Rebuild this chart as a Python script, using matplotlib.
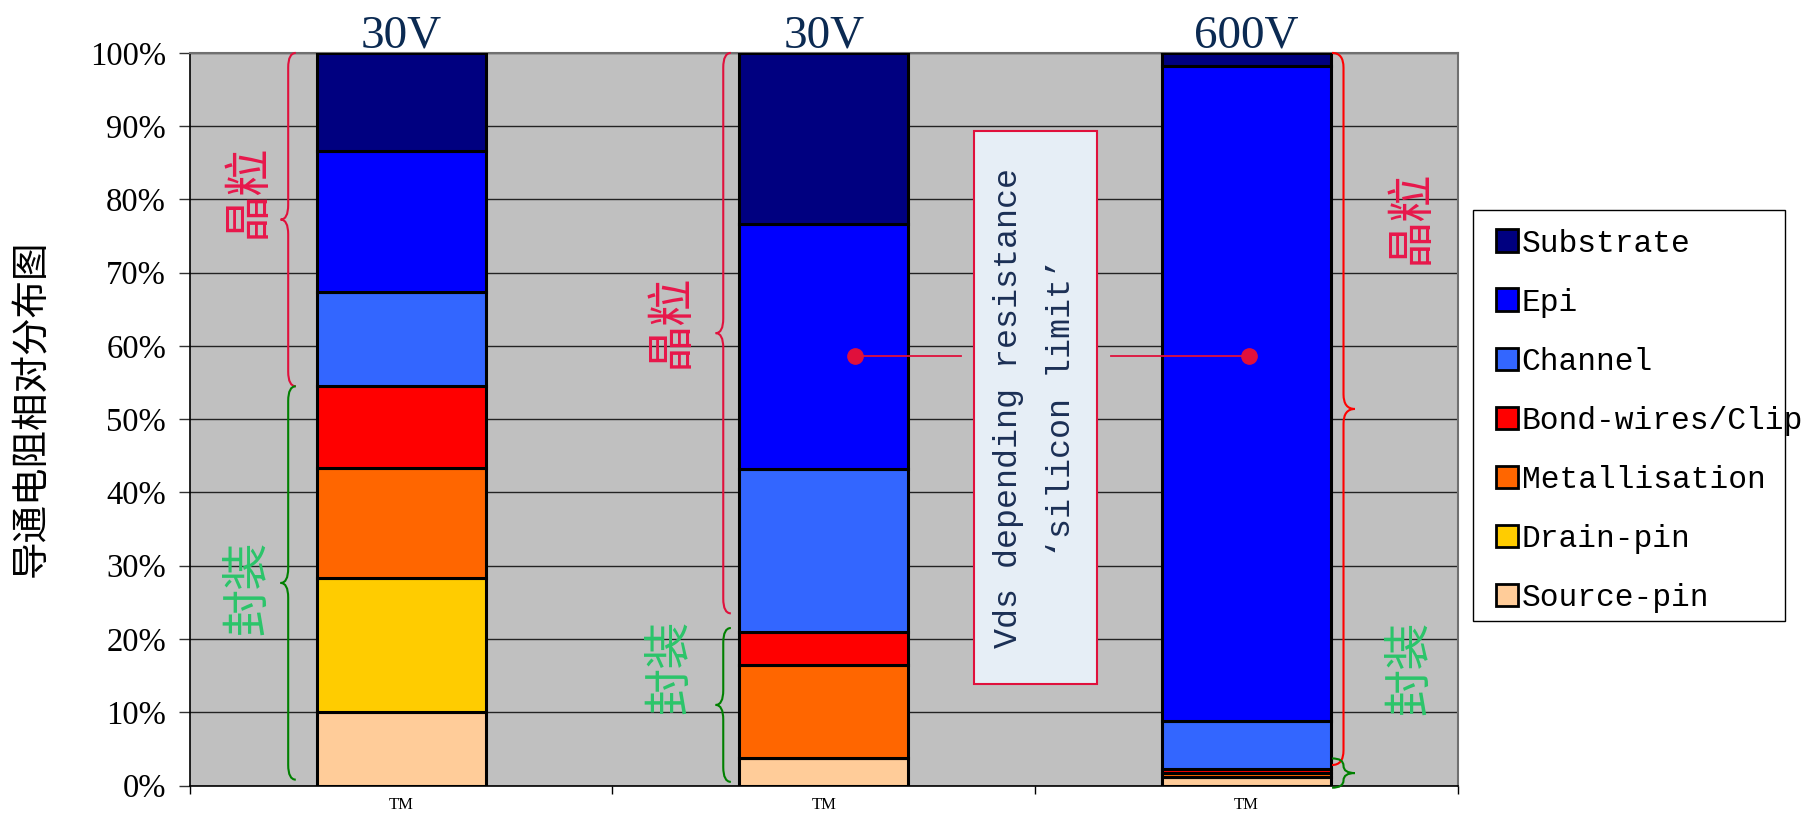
import numpy as np
import matplotlib.pyplot as plt
from matplotlib.path import Path
from matplotlib.patches import PathPatch, Rectangle, Patch

plt.rcParams['font.family'] = ['Liberation Serif', 'Noto Sans CJK SC', 'DejaVu Sans']

# device voltage class and x tick text
devices = ['30V', '30V', '600V']
x_labels = ['TM', 'TM', 'TM']

# resistance components, stacked from the bottom up (% of total RDS(on))
components = ['Source-pin', 'Drain-pin', 'Metallisation', 'Bond-wires/Clip',
              'Channel', 'Epi', 'Substrate']
colors = ['#FFCC99', '#FFCC00', '#FF6600', '#FF0000', '#3366FF', '#0000FF', '#000080']

source_pin = [10.1, 3.8, 1.1]
drain_pin = [18.2, 0.0, 0.0]
metallisation = [15.0, 12.6, 0.6]
bond_wires = [11.2, 4.5, 0.6]
channel = [12.9, 22.3, 6.5]
epi = [19.2, 33.5, 89.4]
substrate = [13.4, 23.3, 1.8]

series = [source_pin, drain_pin, metallisation, bond_wires, channel, epi, substrate]

# brace spans (die part / package part) and label placement per bar
die_span = [(54.5, 100), (23.5, 100), (2.8, 100)]
pkg_span = [(0.8, 54.5), (0.5, 21.5), (-0.3, 3.7)]
brace_x = [-0.267, 0.762, 2.229]
brace_d = [0.018, 0.018, 0.027]
brace_side = [-1, -1, 1]
die_brace_color = ['#E0103C', '#E0103C', '#FF0000']
label_x = [-0.363, 0.637, 2.387]
die_label_y = [81.2, 63.4, 77.6]
pkg_label_y = [27.0, 16.2, 16.1]

# Vds depending resistance markers
marker_x = [1.074, 2.006]
marker_y = 58.6

crimson = '#E0103C'
cjk = ['Noto Sans CJK SC', 'DejaVu Sans']
mono = ['Liberation Mono', 'DejaVu Sans Mono']


def brace(ax, x, y0, y1, d, side, color, lw=1.5):
    ym = (y0 + y1) / 2
    r = min(2.0, (y1 - y0) / 4)
    e = x - side * d
    t = x + side * d
    verts = [(e, y1), (x, y1), (x, y1 - r),
             (x, ym + r), (x, ym), (t, ym),
             (x, ym), (x, ym - r),
             (x, y0 + r), (x, y0), (e, y0)]
    codes = [Path.MOVETO, Path.CURVE3, Path.CURVE3,
             Path.LINETO, Path.CURVE3, Path.CURVE3,
             Path.CURVE3, Path.CURVE3,
             Path.LINETO, Path.CURVE3, Path.CURVE3]
    ax.add_patch(PathPatch(Path(verts, codes), fill=False, edgecolor=color,
                           lw=lw, clip_on=False, zorder=5))


fig = plt.figure(figsize=(18.03, 8.18), dpi=100)
ax = fig.add_axes([0.1052, 0.0397, 0.7035, 0.8956])
ax.set_facecolor('#C0C0C0')

x = np.arange(len(devices))
bottom = np.zeros(len(devices))
for vals, name, col in zip(series, components, colors):
    ax.bar(x, vals, 0.4, bottom=bottom, color=col, edgecolor='black',
           linewidth=2.2, label=name, zorder=3)
    bottom += np.array(vals)

ax.set_xlim(-0.5, 2.5)
ax.set_ylim(0, 100)
ax.set_yticks(np.arange(0, 101, 10))
ax.set_yticklabels([f'{v}%' for v in range(0, 101, 10)], fontsize=23.5)
ax.tick_params(axis='y', length=8, width=1, color='#333333', pad=9)
ax.yaxis.grid(True, color='#222222', lw=1.0)
ax.set_axisbelow(True)

ax.set_xticks([-0.5, 0.5, 1.5, 2.5])
ax.set_xticklabels([])
ax.set_xticks(x, minor=True)
ax.set_xticklabels(x_labels, minor=True, fontsize=12)
ax.tick_params(axis='x', which='major', length=6, width=1)
ax.tick_params(axis='x', which='minor', length=0, pad=8)

for s in ['left', 'bottom']:
    ax.spines[s].set_color('black')
    ax.spines[s].set_linewidth(1.2)
for s in ['top', 'right']:
    ax.spines[s].set_color('#707070')
    ax.spines[s].set_linewidth(1.5)

# voltage class above each bar
for i, d in enumerate(devices):
    ax.text(i, 100.7, d, ha='center', va='baseline', fontsize=34,
            color='#0B2A52', clip_on=False)

# die / package braces
for i in range(len(devices)):
    brace(ax, brace_x[i], die_span[i][0], die_span[i][1], brace_d[i],
          brace_side[i], die_brace_color[i])
    brace(ax, brace_x[i], pkg_span[i][0], pkg_span[i][1], brace_d[i],
          brace_side[i], '#008000')
    ax.text(label_x[i], die_label_y[i], '晶粒', rotation=90, fontsize=34,
            color='#E8174B', family=cjk, ha='center', va='center')
    ax.text(label_x[i], pkg_label_y[i], '封装', rotation=90, fontsize=34,
            color='#2BC56A', family=cjk, ha='center', va='center')

# silicon limit callout
ax.add_patch(Rectangle((1.356, 13.9), 0.291, 75.4, facecolor='#E6EEF6',
                       edgecolor=crimson, lw=1.5, zorder=4))
ax.text(1.5, 51.6, 'Vds depending resistance\n\u2018silicon limit\u2019',
        rotation=90, ha='center', va='center', multialignment='center',
        fontsize=24, family=mono, color='#1B2F55', linespacing=1.9, zorder=6)
ax.plot([marker_x[0], 1.324], [marker_y, marker_y], color=crimson, lw=1.3, zorder=5)
ax.plot([1.678, marker_x[1]], [marker_y, marker_y], color=crimson, lw=1.3, zorder=5)
ax.plot(marker_x, [marker_y] * 2, 'o', ms=11, color=crimson, zorder=6)

fig.text(0.0177, 0.501, '导通电阻相对分布图', rotation=90, fontsize=27,
         family=cjk, ha='center', va='center')

# legend, listed top component first
handles = [Patch(facecolor=c, edgecolor='black', lw=2.0, label=n)
           for n, c in zip(components[::-1], colors[::-1])]
fig.add_artist(Rectangle((0.817, 0.2408), 0.173, 0.5025, transform=fig.transFigure,
                         facecolor='white', edgecolor='black', lw=1))
fig.legend(handles=handles, loc='upper left', bbox_to_anchor=(0.8297, 0.7205),
           frameon=False, borderpad=0, borderaxespad=0, handlelength=0.72,
           handleheight=0.74, handletextpad=0.1, labelspacing=0.93,
           prop={'family': mono, 'size': 22.5})

fig.savefig('out.png', dpi=100)
